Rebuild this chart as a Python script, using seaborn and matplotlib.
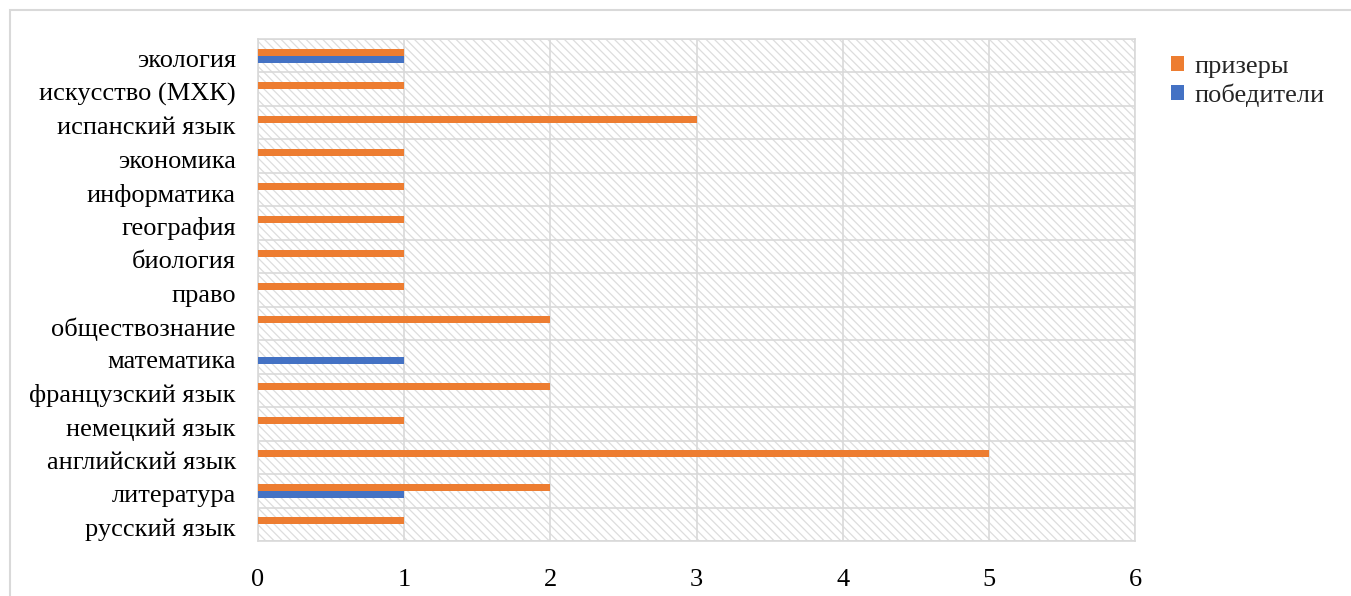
import matplotlib
matplotlib.use("Agg")
import matplotlib.pyplot as plt
import seaborn as sns
import pandas as pd
from matplotlib.patches import Rectangle
from matplotlib.ticker import FixedLocator
from matplotlib.transforms import ScaledTranslation

# categories listed top to bottom
categories = ["экология", "искусство (МХК)", "испанский язык", "экономика",
              "информатика", "география", "биология", "право", "обществознание",
              "математика", "французский язык", "немецкий язык", "английский язык",
              "литература", "русский язык"]
prizers = [1, 1, 3, 1, 1, 1, 1, 1, 2, 0, 2, 1, 5, 2, 1]
winners = [1, 0, 0, 0, 0, 0, 0, 0, 0, 1, 0, 0, 0, 1, 0]
series_names = ["призеры", "победители"]
colors = ["#ED7D31", "#4472C4"]
x_ticks = [0, 1, 2, 3, 4, 5, 6]

df = pd.DataFrame({
    "category": categories * 2,
    "value": prizers + winners,
    "series": [series_names[0]] * len(categories) + [series_names[1]] * len(categories),
})

sns.set_style("white")
plt.rcParams["font.family"] = ["Liberation Serif", "DejaVu Serif"]
plt.rcParams["hatch.linewidth"] = 0.9

FS = 19

fig = plt.figure(figsize=(13.51, 5.96), dpi=100)
ax = fig.add_axes([258 / 1351, 55 / 596, (1135 - 258) / 1351, (541 - 39) / 596])

grid_c = "#D9D9D9"
# hatched background
bg = Rectangle((0, 0), 1, 1, transform=ax.transAxes, facecolor="white",
               edgecolor="#DDDDDD", hatch="\\\\\\\\", linewidth=0, zorder=0)
ax.add_patch(bg)

sns.barplot(data=df, y="category", x="value", hue="series", order=categories,
            hue_order=series_names, palette=colors, orient="h", width=0.42,
            linewidth=0, saturation=1, ax=ax, legend=True, zorder=3)

ax.set_xlim(0, 6)
ax.set_ylim(len(categories) - 0.5, -0.5)
ax.set_xticks(x_ticks)
ax.set_xticklabels([str(t) for t in x_ticks])
ax.yaxis.set_minor_locator(FixedLocator([i - 0.5 for i in range(len(categories) + 1)]))
ax.grid(axis="x", which="major", color=grid_c, linewidth=1.2, zorder=1)
ax.grid(axis="y", which="minor", color=grid_c, linewidth=1.2, zorder=1)
ax.grid(axis="y", which="major", visible=False)
ax.set_axisbelow(True)
for s in ax.spines.values():
    s.set_color(grid_c)
    s.set_linewidth(1.2)

ax.tick_params(axis="y", which="major", length=0, pad=16, labelsize=FS, colors="black")
ax.tick_params(axis="y", which="minor", length=5, width=1.2, color=grid_c, direction="out")
ax.tick_params(axis="x", length=0, pad=20, labelsize=FS, colors="black")
ax.set_xlabel("")
ax.set_ylabel("")
shift = ScaledTranslation(0, -3 / 100, fig.dpi_scale_trans)
for lab in ax.get_yticklabels():
    lab.set_transform(lab.get_transform() + shift)

leg = ax.legend(loc="upper left", bbox_to_anchor=(1171 / 1351, 1 - 56 / 596),
                bbox_transform=fig.transFigure, frameon=False, fontsize=FS,
                handlelength=0.5, handleheight=0.5, handletextpad=0.4,
                labelspacing=0.22, borderaxespad=0, borderpad=0)

# figure border
fig.patches.append(Rectangle((10 / 1351, -0.1), 1.2, (596 - 10) / 596 + 0.1,
                             transform=fig.transFigure, fill=False,
                             edgecolor=grid_c, linewidth=1.5, zorder=0))

fig.savefig("out.png", dpi=100)
